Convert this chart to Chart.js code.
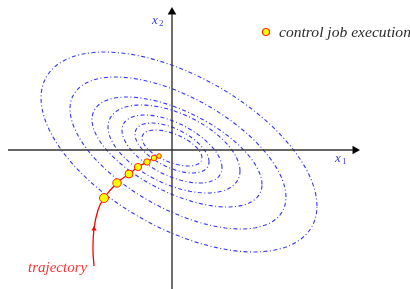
<!DOCTYPE html>
<html>
<head>
<meta charset="utf-8">
<script src="https://cdn.jsdelivr.net/npm/chart.js@4.4.1/dist/chart.umd.min.js"></script>
<style>
  html, body { margin: 0; padding: 0; background: #fff; }
  #wrap { width: 410px; height: 289px; }
</style>
</head>
<body>
<div id="wrap"><canvas id="phaseChart" width="410" height="289"></canvas></div>
<script>
// Level sets (one entry per ellipse, outer to inner)
const ellipseCx = [7, 6, 5, 2, 0, 0, 0];
const ellipseCy = [-2, -3, -2, 1, 1, 2, 2];
const ellipseHalfW = [138, 108, 85, 66, 50, 37, 30];
const ellipseHalfH = [100, 76, 55, 44, 34, 25, 18];
const ellipseTilt = [0.54, 0.58, 0.59, 0.5, 0.55, 0.55, 0.55];

// Trajectory coming in from below
const trajX = [-78, -79, -78, -74, -68];
const trajY = [-116, -100, -79, -60, -48];

// Control job executions along the trajectory
const jobX = [-68, -55, -43, -34, -25, -18, -13];
const jobY = [-48, -33, -24, -17, -12, -8, -6];

// Axis extents
const axisXMin = -164, axisXMax = 181;
const axisYMin = -139, axisYMax = 136;

function ellipsePoints(i) {
    const pts = [];
    const s = Math.sqrt(1 - ellipseTilt[i] * ellipseTilt[i]);
    for (let k = 0; k <= 90; k++) {
        const t = k / 90 * Math.PI * 2;
        pts.push({
            x: ellipseCx[i] + ellipseHalfW[i] * Math.cos(t),
            y: ellipseCy[i] + ellipseHalfH[i] * (-ellipseTilt[i] * Math.cos(t) + s * Math.sin(t))
        });
    }
    return pts;
}

const datasets = [];

// job markers (drawn on top)
datasets.push({
    data: jobX.map((x, i) => ({ x: x, y: jobY[i] })),
    showLine: false,
    pointRadius: [4.5, 4.2, 4, 3.6, 3.2, 2.8, 2.3],
    pointBackgroundColor: '#ffff00',
    pointBorderColor: '#ff2a00',
    pointBorderWidth: 1
});

// trajectory line through the markers
datasets.push({
    data: trajX.map((x, i) => ({ x: x, y: trajY[i] }))
        .concat(jobX.slice(1).map((x, i) => ({ x: x, y: jobY[i + 1] }))),
    showLine: true,
    borderColor: '#ff0000',
    borderWidth: 1.3,
    tension: 0.4,
    pointRadius: 0
});

// small arrow head on the trajectory
datasets.push({
    data: [{ x: trajX[2], y: trajY[2] }],
    showLine: false,
    pointStyle: 'triangle',
    pointRadius: 3,
    pointBackgroundColor: '#ff0000',
    pointBorderColor: '#ff0000',
    pointBorderWidth: 0
});

// axes
datasets.push({
    data: [{ x: axisXMin, y: 0 }, { x: axisXMax, y: 0 }],
    showLine: true, borderColor: '#333', borderWidth: 1.4, pointRadius: 0
});
datasets.push({
    data: [{ x: 0, y: axisYMin }, { x: 0, y: axisYMax }],
    showLine: true, borderColor: '#333', borderWidth: 1.4, pointRadius: 0
});
datasets.push({
    data: [{ x: axisXMax + 2, y: 0 }],
    showLine: false, pointStyle: 'triangle', pointRotation: 90,
    pointRadius: 5, pointBackgroundColor: '#000', pointBorderColor: '#000', pointBorderWidth: 0
});
datasets.push({
    data: [{ x: 0, y: axisYMax + 2 }],
    showLine: false, pointStyle: 'triangle', pointRotation: 0,
    pointRadius: 5, pointBackgroundColor: '#000', pointBorderColor: '#000', pointBorderWidth: 0
});

// ellipses
ellipseHalfW.forEach((w, i) => {
    datasets.push({
        data: ellipsePoints(i),
        showLine: true,
        borderColor: 'rgba(30, 30, 255, 0.9)',
        borderWidth: 1.1,
        borderDash: [4, 2.5, 1, 2.5],
        pointRadius: 0,
        tension: 0
    });
});

// Labels drawn on the canvas
const labelPlugin = {
    id: 'labels',
    afterDraw(chart) {
        const ctx = chart.ctx;
        const xs = chart.scales.x, ys = chart.scales.y;
        ctx.save();
        ctx.textBaseline = 'alphabetic';

        // axis names
        ctx.fillStyle = '#3a3aee';
        ctx.font = 'italic 13px "Liberation Serif", serif';
        ctx.fillText('x', xs.getPixelForValue(163), ys.getPixelForValue(-12));
        ctx.fillText('x', xs.getPixelForValue(-20), ys.getPixelForValue(126));
        ctx.font = '9px "Liberation Serif", serif';
        ctx.fillText('1', xs.getPixelForValue(170), ys.getPixelForValue(-14));
        ctx.fillText('2', xs.getPixelForValue(-13), ys.getPixelForValue(124));

        // legend
        const lx = xs.getPixelForValue(94), ly = ys.getPixelForValue(118);
        ctx.beginPath();
        ctx.arc(lx, ly, 3.5, 0, Math.PI * 2);
        ctx.fillStyle = '#ffff00';
        ctx.fill();
        ctx.lineWidth = 1.2;
        ctx.strokeStyle = '#ff2a00';
        ctx.stroke();
        ctx.fillStyle = '#2a2a2a';
        ctx.font = 'italic 15.6px "Liberation Serif", serif';
        ctx.fillText('control job execution', lx + 13, ly + 5);

        // trajectory name
        ctx.fillStyle = '#ff3030';
        ctx.font = 'italic 15px "Liberation Serif", serif';
        ctx.fillText('trajectory', xs.getPixelForValue(-144), ys.getPixelForValue(-122));
        ctx.restore();
    }
};

const chart = new Chart(document.getElementById('phaseChart').getContext('2d'), {
    type: 'scatter',
    data: { datasets: datasets },
    options: {
        responsive: false,
        animation: false,
        devicePixelRatio: 1,
        layout: { padding: 0, autoPadding: false },
        plugins: { legend: { display: false }, tooltip: { enabled: false } },
        scales: {
            x: { type: 'linear', min: -172, max: 238, display: false },
            y: { type: 'linear', min: -139, max: 150, display: false }
        }
    },
    plugins: [labelPlugin]
});
</script>
</body>
</html>
